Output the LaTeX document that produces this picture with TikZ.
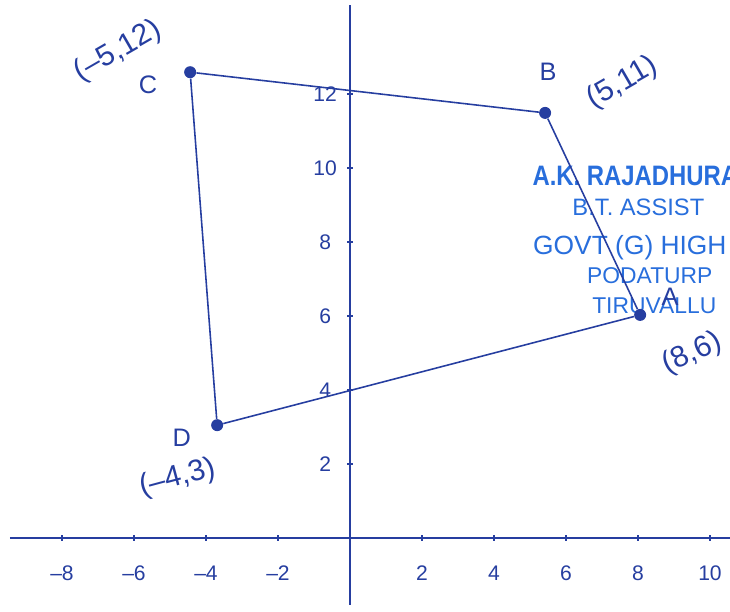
\documentclass[tikz,border=0pt]{standalone}
\usepackage{fontspec}
\setmainfont{Liberation Sans}
\usetikzlibrary{positioning}
\definecolor{ink}{RGB}{38,62,160}
\definecolor{stampblue}{RGB}{40,110,220}

\begin{document}
\begin{tikzpicture}[
  x=0.72cm, y=0.74cm,
  font=\large,
  axis/.style  = {draw=ink, line width=0.9pt},
  edge/.style  = {draw=ink, line width=0.9pt},
  vtx/.style   = {circle, fill=ink, inner sep=0pt, minimum size=2.4mm},
  lbl/.style   = {text=ink, font=\Large},
  crd/.style   = {text=ink, font=\fontsize{17}{17}\selectfont, inner sep=1pt},
  num/.style   = {text=ink, font=\large},
  stamp/.style = {text=stampblue, anchor=base west, inner sep=0pt}
]
\useasboundingbox (-9.722,-1.973) rectangle (10.556,14.541);
\clip (-9.722,-1.973) rectangle (10.556,14.541);
%% Stamp
\node[stamp, font=\bfseries\fontsize{16}{16}\selectfont] (st1) at (5.06,9.54) {\scalebox{0.85}[1]{A.K. RAJADHURA}};
\node[stamp, font=\fontsize{13.5}{14}\selectfont] (st2) at (6.17,8.73) {B.T. ASSIST};
\node[stamp, font=\fontsize{15}{15}\selectfont]   (st3) at (5.08,7.65) {GOVT (G) HIGH};
\node[stamp, font=\fontsize{13}{13}\selectfont]   (st4) at (6.58,6.89) {PODATURP};
\node[stamp, font=\fontsize{13}{13}\selectfont]   (st5) at (6.72,6.08) {TIRUVALLU};
%% Axes
\coordinate (xw) at (-9.45,0); \coordinate (xe) at (10.7,0);
\coordinate (ys) at (0,-1.81); \coordinate (yn) at (0,14.4);
\draw[axis] (xw) -- (xe); \draw[axis] (ys) -- (yn);
%% Tick marks and numbers
\foreach \x/\t in {-8/–8,-6/–6,-4/–4,-2/–2,2/2,4/4,6/6,8/8,10/10}{
  \draw[axis] (\x,-0.08) -- (\x,0.08);
  \node[num] (xl\x) at (\x,-0.95) {\t};}
\foreach \y in {2,4,...,12}{
  \draw[axis] (-0.08,\y) -- (0.08,\y);
  \node[num] (yl\y) at (-0.69,\y) {\y};}
%% Vertices
\node[vtx] (C) at (-4.44,12.59) {};
\node[vtx] (B) at (5.42,11.49) {};
\node[vtx] (A) at (8.06,6.03) {};
\node[vtx] (D) at (-3.69,3.05) {};
\draw[edge] (C) -- (B) -- (A) -- (D) -- (C);
%% Vertex labels
\node[lbl] (Cn) at (-5.61,12.25) {C};
\node[lbl] (Bn) at (5.50,12.60)  {B};
\node[lbl] (An) at (8.89,6.51)   {A};
\node[lbl] (Dn) at (-4.67,2.70)  {D};
\node[crd, rotate=30] (Cc) at (-6.45,13.15) {(–5,12)};
\node[crd, rotate=30] (Bc) at (7.58,12.30)  {(5,11)};
\node[crd, rotate=25] (Ac) at (9.50,4.98)   {(8,6)};
\node[crd, rotate=15] (Dc) at (-4.78,1.62)  {(–4,3)};
\end{tikzpicture}
\end{document}
